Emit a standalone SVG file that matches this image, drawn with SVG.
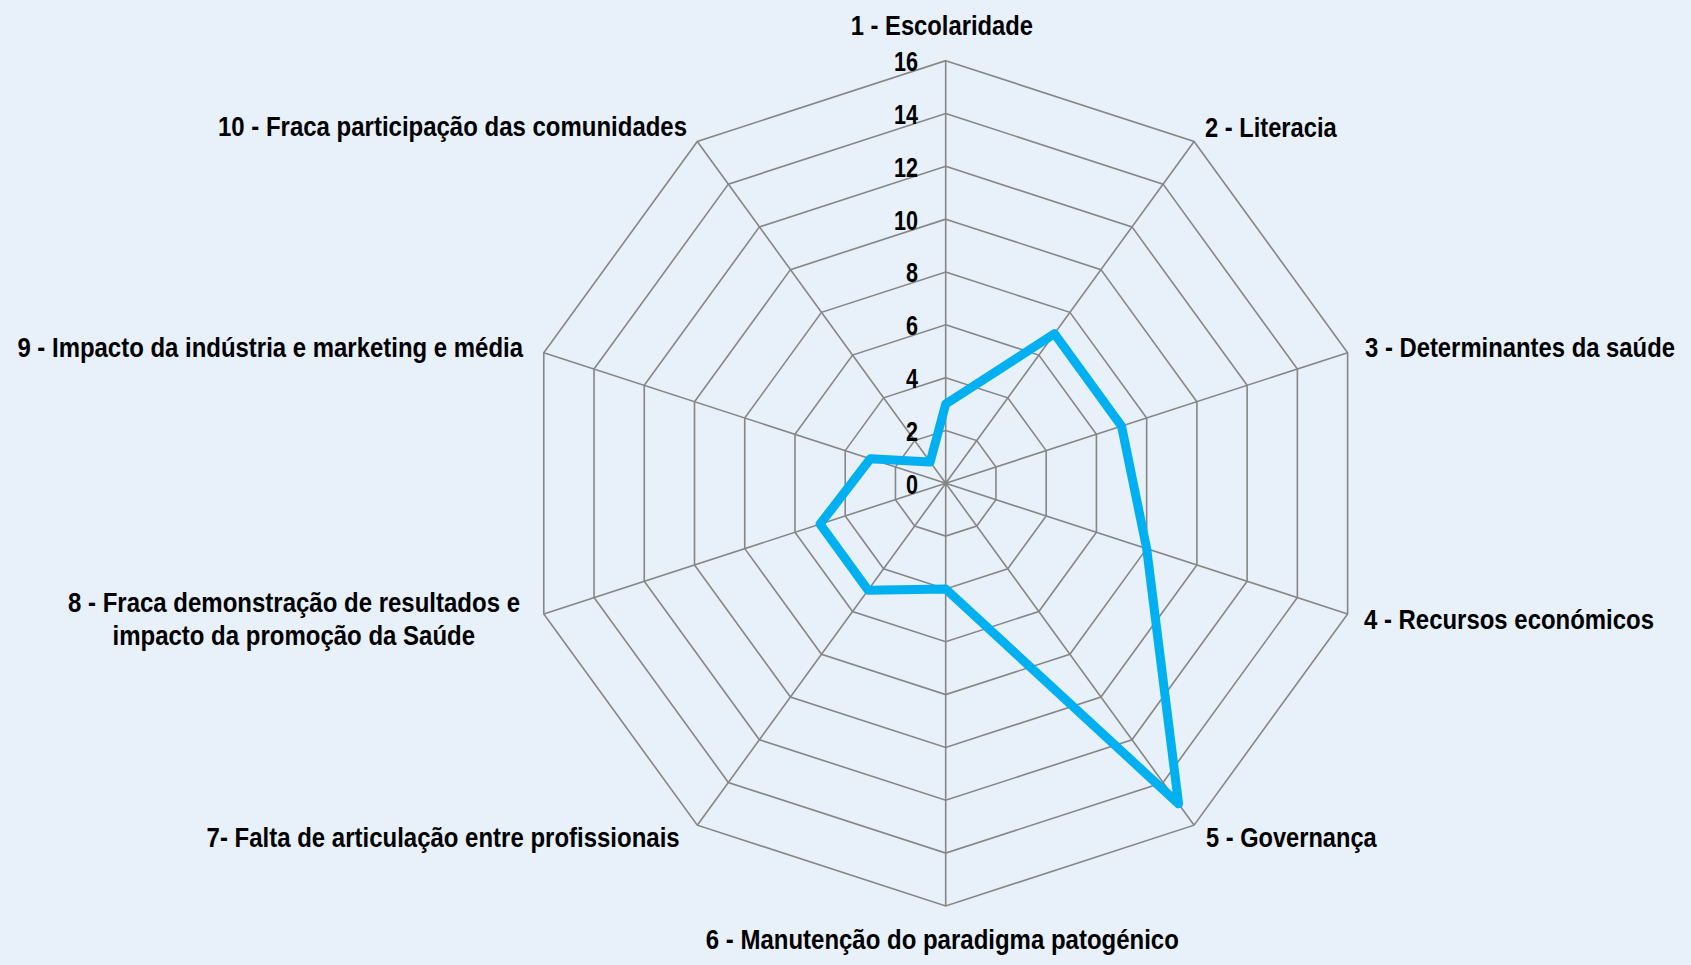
<svg xmlns="http://www.w3.org/2000/svg" xmlns:xlink="http://www.w3.org/1999/xlink" width="1691" height="965" viewBox="0 0 1691 965">
<style>
.lbl{font-family:"Liberation Sans Narrow","Liberation Sans",Arial,sans-serif;font-weight:bold;font-size:28px;fill:#000}
.tick{font-family:"Liberation Sans Narrow","Liberation Sans",Arial,sans-serif;font-weight:bold;font-size:28px;fill:#000;text-anchor:end}
.grid{fill:none;stroke:#868686;stroke-width:1.6}
.series{fill:none;stroke:#00b0f0;stroke-width:9;stroke-linejoin:round;stroke-linecap:round}
</style>
<defs>
<polygon id="ring" class="grid" vector-effect="non-scaling-stroke" points="0,-1 0.587785,-0.809017 0.951057,-0.309017 0.951057,0.309017 0.587785,0.809017 0,1 -0.587785,0.809017 -0.951057,0.309017 -0.951057,-0.309017 -0.587785,-0.809017"/>
</defs>
<rect x="0" y="0" width="1691" height="965" fill="#e8f0fa"/>
<g id="grid">
<use xlink:href="#ring" href="#ring" transform="translate(945.7,483.3) scale(52.825)"/>
<use xlink:href="#ring" href="#ring" transform="translate(945.7,483.3) scale(105.65)"/>
<use xlink:href="#ring" href="#ring" transform="translate(945.7,483.3) scale(158.475)"/>
<use xlink:href="#ring" href="#ring" transform="translate(945.7,483.3) scale(211.3)"/>
<use xlink:href="#ring" href="#ring" transform="translate(945.7,483.3) scale(264.125)"/>
<use xlink:href="#ring" href="#ring" transform="translate(945.7,483.3) scale(316.95)"/>
<use xlink:href="#ring" href="#ring" transform="translate(945.7,483.3) scale(369.775)"/>
<use xlink:href="#ring" href="#ring" transform="translate(945.7,483.3) scale(422.6)"/>
<path class="grid" d="M945.7,483.3L945.7,60.7M945.7,483.3L1194.1,141.41M945.7,483.3L1347.62,352.71M945.7,483.3L1347.62,613.89M945.7,483.3L1194.1,825.19M945.7,483.3L945.7,905.9M945.7,483.3L697.3,825.19M945.7,483.3L543.78,613.89M945.7,483.3L543.78,352.71M945.7,483.3L697.3,141.41"/>
</g>
<g id="ticks">
<text class="tick" x="918" y="493.6" textLength="12" lengthAdjust="spacingAndGlyphs">0</text>
<text class="tick" x="918" y="440.8" textLength="12" lengthAdjust="spacingAndGlyphs">2</text>
<text class="tick" x="918" y="387.9" textLength="12" lengthAdjust="spacingAndGlyphs">4</text>
<text class="tick" x="918" y="335.1" textLength="12" lengthAdjust="spacingAndGlyphs">6</text>
<text class="tick" x="918" y="282.3" textLength="12" lengthAdjust="spacingAndGlyphs">8</text>
<text class="tick" x="918" y="229.5" textLength="24" lengthAdjust="spacingAndGlyphs">10</text>
<text class="tick" x="918" y="176.6" textLength="24" lengthAdjust="spacingAndGlyphs">12</text>
<text class="tick" x="918" y="123.8" textLength="24" lengthAdjust="spacingAndGlyphs">14</text>
<text class="tick" x="918" y="71" textLength="24" lengthAdjust="spacingAndGlyphs">16</text>
</g>
<g id="connectors">
<polygon id="series" class="series" points="945.7,404.06 1054.38,333.72 1121.54,426.17 1146.66,548.6 1178.57,803.82 945.7,588.95 868.08,590.14 820.1,524.11 870.34,458.81 930.18,461.93"/>
</g>
<g id="label-1"><text class="lbl" transform="translate(850.7,34.5) scale(0.85,1)" textLength="214.5" lengthAdjust="spacingAndGlyphs">1 - Escolaridade</text></g>
<g id="label-2"><text class="lbl" transform="translate(1205,136.7) scale(0.85,1)" textLength="154.9" lengthAdjust="spacingAndGlyphs">2 - Literacia</text></g>
<g id="label-3"><text class="lbl" transform="translate(1365,356.5) scale(0.85,1)" textLength="364.7" lengthAdjust="spacingAndGlyphs">3 - Determinantes da saúde</text></g>
<g id="label-4"><text class="lbl" transform="translate(1364,629) scale(0.85,1)" textLength="341.2" lengthAdjust="spacingAndGlyphs">4 - Recursos económicos</text></g>
<g id="label-5"><text class="lbl" transform="translate(1206,847) scale(0.85,1)" textLength="200.8" lengthAdjust="spacingAndGlyphs">5 - Governança</text></g>
<g id="label-6"><text class="lbl" transform="translate(705.8,949) scale(0.85,1)" textLength="556.5" lengthAdjust="spacingAndGlyphs">6 - Manutenção do paradigma patogénico</text></g>
<g id="label-7"><text class="lbl" transform="translate(206.6,847) scale(0.85,1)" textLength="556.5" lengthAdjust="spacingAndGlyphs">7- Falta de articulação entre profissionais</text></g>
<g id="label-8">
<text class="lbl" transform="translate(68,612) scale(0.85,1)" textLength="531.8" lengthAdjust="spacingAndGlyphs">8 - Fraca demonstração de resultados e</text>
<text class="lbl" transform="translate(112.5,644.5) scale(0.85,1)" textLength="426.5" lengthAdjust="spacingAndGlyphs">impacto da promoção da Saúde</text>
</g>
<g id="label-9"><text class="lbl" transform="translate(17.4,356.7) scale(0.85,1)" textLength="594.8" lengthAdjust="spacingAndGlyphs">9 - Impacto da indústria e marketing e média</text></g>
<g id="label-10"><text class="lbl" transform="translate(218,136) scale(0.85,1)" textLength="551.8" lengthAdjust="spacingAndGlyphs">10 - Fraca participação das comunidades</text></g>
</svg>
